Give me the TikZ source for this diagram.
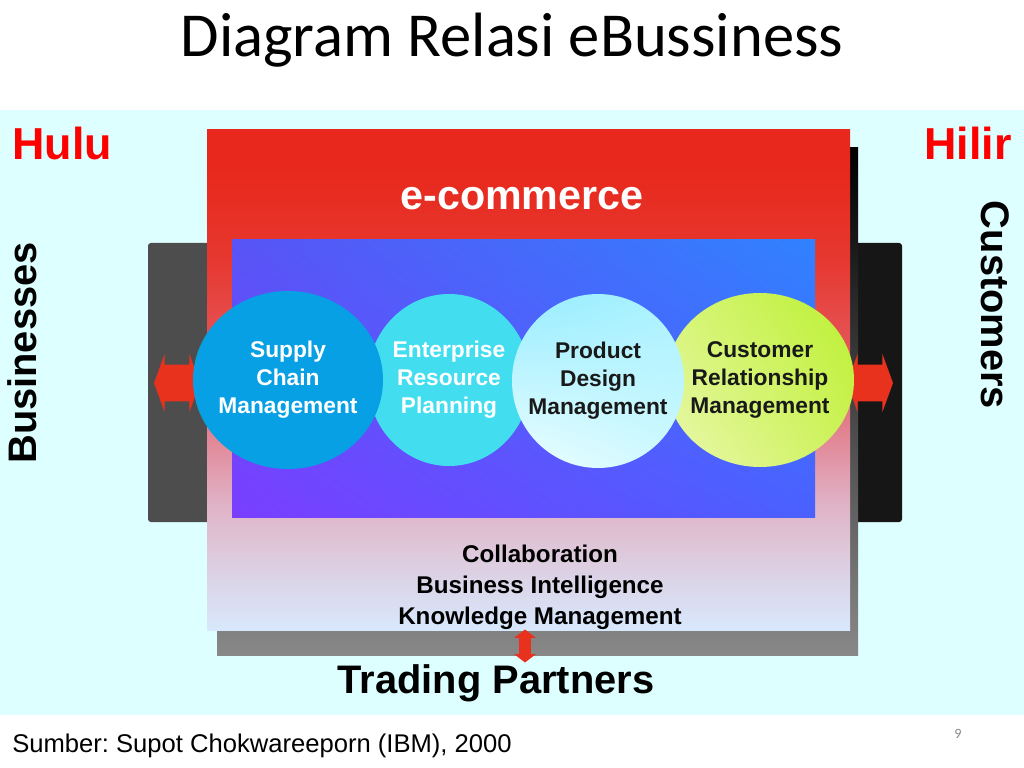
\documentclass[tikz,border=0pt]{standalone}
\usepackage{fontspec}
\setmainfont{Liberation Sans}
\newfontfamily\titlefont{Carlito}
\usetikzlibrary{shapes.geometric,shapes.arrows,shadings}
\frenchspacing

\definecolor{bgcyan}{RGB}{222,255,255}
\definecolor{hulured}{RGB}{255,0,0}
\definecolor{arrred}{RGB}{232,50,30}
\definecolor{bizgrey}{RGB}{77,77,77}
\definecolor{custblack}{RGB}{22,22,22}
\definecolor{shadowgrey}{RGB}{136,136,136}
\definecolor{scmblue}{RGB}{8,160,228}
\definecolor{erpcyan}{RGB}{66,222,240}
\definecolor{pagegrey}{RGB}{137,137,137}
\definecolor{ecomA}{RGB}{216,232,252}
\definecolor{ecomB}{RGB}{218,220,240}
\definecolor{ecomC}{RGB}{222,200,218}
\definecolor{ecomD}{RGB}{224,176,196}
\definecolor{ecomE}{RGB}{226,130,144}
\definecolor{ecomF}{RGB}{228,86,88}
\definecolor{ecomG}{RGB}{230,56,48}
\definecolor{ecomH}{RGB}{232,40,28}

\pgfdeclareverticalshading{ecomfade}{100bp}{color(0bp)=(ecomA); color(25bp)=(ecomA);
  color(28bp)=(ecomB); color(33bp)=(ecomC); color(38bp)=(ecomD); color(45bp)=(ecomE);
  color(53bp)=(ecomF); color(62bp)=(ecomG); color(71bp)=(ecomH); color(100bp)=(ecomH)}

\def\pxu{0.703125pt}

\tikzset{
  proc/.style={ellipse, draw=none, inner sep=0pt},
  proclbl/.style={align=center, inner sep=0pt, font=\bfseries\fontsize{16}{19.7}\selectfont},
  flow/.style={double arrow, fill=arrred, draw=none, inner xsep=0pt, double arrow tip angle=140},
  sidelbl/.style={inner sep=0pt, font=\bfseries\fontsize{28}{34}\selectfont},
}

\begin{document}
\begin{tikzpicture}[x=0.703125pt,y=-0.703125pt,inner sep=0pt]
  \useasboundingbox (0,0) rectangle (1024,768);
  \fill[white] (0,0) rectangle (1024,768);
  \fill[bgcyan] (0,110) rectangle (1024,715);

  % side panels and shadow
  \fill[bizgrey, rounded corners=2pt] (148,243) rectangle (240,522);
  \fill[custblack, rounded corners=2pt] (820,243) rectangle (902,522);
  \shade[top color=black, bottom color=shadowgrey] (217,148) rectangle (858,655);

  % e-commerce box
  \shade[shading=ecomfade] (207,130) rectangle (850,630);
  \shade[upper left={rgb,255:red,88;green,84;blue,245}, upper right={rgb,255:red,48;green,130;blue,255},
    lower left={rgb,255:red,122;green,62;blue,255}, lower right={rgb,255:red,74;green,96;blue,255}]
    (232,240) rectangle (815,517);

  \node[anchor=base, font=\titlefont\fontsize{44}{52}\selectfont] (title) at (512,57) {Diagram Relasi eBussiness};
  \node[anchor=base west, text=hulured, font=\bfseries\fontsize{31.5}{36}\selectfont] (hulu) at (12,160) {Hulu};
  \node[anchor=base east, text=hulured, font=\bfseries\fontsize{31.5}{36}\selectfont] (hilir) at (1012,160) {Hilir};
  \node[anchor=base, text=white, font=\bfseries\fontsize{29}{34}\selectfont] (ecom) at (522,210) {e-commerce};

  % arrows
  \node[flow, inner ysep=18*\pxu, minimum height=46*\pxu, double arrow head extend=11*\pxu] (flowL) at (177,383) {};
  \node[flow, inner ysep=18*\pxu, minimum height=46*\pxu, double arrow head extend=11*\pxu] (flowR) at (870,383) {};
  \node[flow, rotate=90, inner ysep=5.5*\pxu, double arrow tip angle=105, minimum height=33*\pxu, double arrow head extend=5*\pxu] (flowB) at (525,646) {};

  % circles
  \node[proc, fill=erpcyan, minimum width=163*\pxu, minimum height=172*\pxu] (erp) at (449,380) {};
  \node[proc, upper left={rgb,255:red,215;green,245;blue,120}, upper right={rgb,255:red,188;green,240;blue,50},
    lower left={rgb,255:red,235;green,248;blue,175}, lower right={rgb,255:red,205;green,242;blue,90},
    minimum width=188*\pxu, minimum height=174*\pxu] (crm) at (760,380) {};
  \node[proc, upper left={rgb,255:red,150;green,236;blue,255}, upper right={rgb,255:red,172;green,242;blue,255},
    lower left={rgb,255:red,238;green,255;blue,255}, lower right={rgb,255:red,205;green,248;blue,255},
    minimum width=172*\pxu, minimum height=174*\pxu] (pdm) at (598,381) {};
  \node[proc, fill=scmblue, minimum width=190*\pxu, minimum height=178*\pxu] (scm) at (288,380) {};

  \node[proclbl, text=white] at (scm) {Supply\\Chain\\Management};
  \node[proclbl, text=white] at (erp) {Enterprise\\Resource\\Planning};
  \node[proclbl, text=black!90] at (pdm) {Product\\Design\\Management};
  \node[proclbl, text=black!90] at (crm) {Customer\\Relationship\\Management};

  \node[align=center, font=\bfseries\fontsize{17}{21.8}\selectfont] (tools) at (540,587)
    {Collaboration\\Business Intelligence\\Knowledge Management};

  \node[sidelbl, rotate=90] (biz) at (22,353) {Businesses};
  \node[sidelbl, rotate=-90] (cust) at (995,305) {Customers};
  \node[sidelbl, anchor=base] (partner) at (496,693) {Trading Partners};

  \node[anchor=base west, font=\fontsize{18}{22}\selectfont] (src) at (12,752) {Sumber: Supot Chokwareeporn (IBM), 2000};
  \node[anchor=base, text=pagegrey, font=\titlefont\fontsize{10}{12}\selectfont] (page) at (958,738) {9};
\end{tikzpicture}
\end{document}
